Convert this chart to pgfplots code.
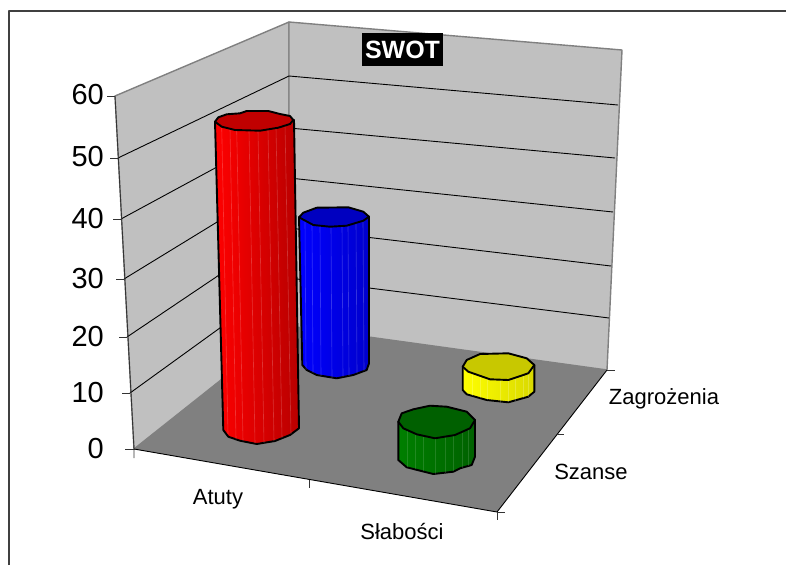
\documentclass[border=0pt]{standalone}
\usepackage{pgfplots}
\pgfplotsset{compat=1.18}
\usepackage{fontspec}
\setmainfont{Liberation Sans}
\definecolor{wall}{HTML}{C0C0C0}
\definecolor{floorc}{HTML}{808080}
\definecolor{redtop}{HTML}{C00000}
\definecolor{bluetop}{HTML}{0000C0}
\definecolor{greentop}{HTML}{006000}
\definecolor{yellowtop}{HTML}{C8C800}
\begin{document}
\begin{tikzpicture}
\begin{axis}[name=ax,
  scale only axis, width=786pt, height=565pt,
  xmin=0, xmax=786, ymin=0, ymax=565, y dir=reverse,
  hide axis, clip=true, unbounded coords=jump, line join=round]
% frame
\addplot[draw=black!75, line width=1.4pt] coordinates {(9,565) (9,11) (786,11)};
% walls and floor
\addplot[fill=wall, draw=floorc, line width=1.4pt] coordinates {(115,96) (289,22) (289,326) (134,449)} --cycle;
\addplot[fill=wall, draw=floorc, line width=1.4pt] coordinates {(289,22) (622,50) (607,370) (289,326)} --cycle;
\addplot[fill=floorc, draw=none] coordinates {(134,449) (289,326) (607,370) (497,512)} --cycle;
% gridlines
\addplot[black, line width=0.9pt] coordinates {
 (118,158) (289,76) (618,105) (nan,nan)
 (121,219) (289,128) (615,158) (nan,nan)
 (124,279) (289,178) (613,212) (nan,nan)
 (127,337) (289,228) (611,266) (nan,nan)
 (130,393) (289,278) (609,318)};
% axes and ticks
\addplot[black!80, line width=0.9pt] coordinates {(115,96) (134,449) (134,458)};
\addplot[black, line width=0.9pt] coordinates {(134,449) (497,512) (607,370)};
\addplot[black!80, line width=0.8pt] coordinates {
 (107,96) (115,96) (nan,nan) (110,158) (118,158) (nan,nan)
 (113,219) (121,219) (nan,nan) (116,279) (124,279) (nan,nan)
 (119,337) (127,337) (nan,nan) (122,393) (130,393) (nan,nan)
 (125,449) (134,449) (nan,nan)
 (309,480) (309,488) (nan,nan) (497,512) (497,520) (nan,nan)
 (497,512) (505,512) (nan,nan) (557,434) (564,434) (nan,nan)
 (607,370) (615,370)};
% blue
\addplot[draw=black, line width=1.9pt, left color=blue, right color=blue!80!black] coordinates {(299,217.3) (302.3,365) (306.7,370) (316.7,375) (336.7,378.3) (353.3,375) (366.7,370) (369,363.3) (369,216.7)} --cycle;
\addplot[white, opacity=0.2, line width=0.6pt] coordinates {
 (305,222) (306,370) (nan,nan) (312,224) (313,373) (nan,nan) (320,226) (321,376) (nan,nan)
 (331,227) (332,378) (nan,nan) (342,226) (343,377) (nan,nan) (348,225) (349,376) (nan,nan)
 (356,223) (357,373) (nan,nan) (363,221) (364,371)};
\addplot[draw=black, line width=1.9pt, fill=bluetop] coordinates {(299,217.3) (303.3,212.7) (316.7,207.7) (348.3,207.3) (363.3,211.7) (369,216.7) (363.3,220.7) (346.7,225.7) (330,226.7) (313.3,225)} --cycle;
% yellow
\addplot[draw=black, line width=1.9pt, left color=yellow, right color=yellow!85!black] coordinates {(462.7,366.7) (462.7,390) (466.7,394.3) (486.7,400) (508.3,402.3) (528.3,396.7) (534.3,391.7) (534.3,365)} --cycle;
\addplot[white, opacity=0.2, line width=0.6pt] coordinates {
 (472,374) (472,396) (nan,nan) (480,377) (480,398) (nan,nan) (487,379) (487,400) (nan,nan)
 (500,380) (500,402) (nan,nan) (508,380) (508,402) (nan,nan) (515,378) (515,401) (nan,nan)
 (523,375) (523,398) (nan,nan) (528,374) (528,397)};
\addplot[draw=black, line width=1.9pt, fill=yellowtop] coordinates {(462.7,366.7) (466.7,360) (480,354) (508.3,353.3) (526.7,358.3) (534.3,365) (528.3,373.3) (508.3,380) (490,379.3) (468.3,371.7)} --cycle;
% red
\addplot[draw=black, line width=1.9pt, left color=red, right color=red!72!black] coordinates {(215,121.7) (223.3,430) (228.3,436.7) (240,440.7) (256.7,444) (275,441) (290,435) (299,428.3) (294,120)} --cycle;
\addplot[white, opacity=0.2, line width=0.6pt] coordinates {
 (221.7,127) (228,434) (nan,nan) (230,129) (236,439) (nan,nan) (236.7,130) (243,441) (nan,nan)
 (249,131) (255,443) (nan,nan) (258,131) (264,443) (nan,nan) (268,130) (274,441) (nan,nan)
 (276,128) (282,438) (nan,nan) (285,125) (291,434)};
\addplot[draw=black, line width=1.9pt, fill=redtop] coordinates {(215,121.7) (218.3,117.3) (226.7,114.3) (240,113.3) (246.7,111) (268.3,111) (280,114) (290,116) (293.3,120) (290,124) (278.3,127.7) (260,130.7) (235,130) (221.7,126.7)} --cycle;
% green
\addplot[draw=black, line width=1.9pt, left color=green!50!black, right color=green!38!black] coordinates {(398.3,421.7) (398.3,460) (406.7,467.3) (433.3,474) (453.3,471.7) (460,468.3) (471.7,465) (475,456.7) (475,420)} --cycle;
\addplot[white, opacity=0.13, line width=0.6pt] coordinates {
 (407,431) (407,467) (nan,nan) (415,434) (415,469) (nan,nan) (423,436) (423,471) (nan,nan)
 (435,438) (435,474) (nan,nan) (445,437) (445,473) (nan,nan) (453,435) (453,471) (nan,nan)
 (462,432) (462,468) (nan,nan) (468,429) (468,466)};
\addplot[draw=black, line width=1.9pt, fill=greentop] coordinates {(398.3,421.7) (401.7,413.3) (413.3,409.3) (430,405.7) (446.7,406.7) (466.7,411.7) (475,420) (470,428.3) (455,435) (435,438.3) (416.7,434.3) (403.3,428.3)} --cycle;
% text
\node[fill=black, text=white, font=\fontsize{25}{25}\selectfont\bfseries, inner sep=0pt, minimum width=81pt, minimum height=33pt] at (axis cs:402.5,49.5) {SWOT};
\node[anchor=east, inner sep=0pt, font=\fontsize{29}{29}\selectfont] at (axis cs:104,95) {60};
\node[anchor=east, inner sep=0pt, font=\fontsize{29}{29}\selectfont] at (axis cs:104,157) {50};
\node[anchor=east, inner sep=0pt, font=\fontsize{29}{29}\selectfont] at (axis cs:104,219) {40};
\node[anchor=east, inner sep=0pt, font=\fontsize{29}{29}\selectfont] at (axis cs:104,279) {30};
\node[anchor=east, inner sep=0pt, font=\fontsize{29}{29}\selectfont] at (axis cs:104,337) {20};
\node[anchor=east, inner sep=0pt, font=\fontsize{29}{29}\selectfont] at (axis cs:104,393) {10};
\node[anchor=east, inner sep=0pt, font=\fontsize{29}{29}\selectfont] at (axis cs:104,449) {0};
\node[font=\fontsize{22}{22}\selectfont, inner sep=0pt] at (axis cs:218,499) {Atuty};
\node[font=\fontsize{22}{22}\selectfont, inner sep=0pt] at (axis cs:402,531) {Słabości};
\node[font=\fontsize{22}{22}\selectfont, inner sep=0pt] at (axis cs:591,472) {Szanse};
\node[font=\fontsize{22}{22}\selectfont, inner sep=0pt] at (axis cs:664,399) {Zagrożenia};
\end{axis}
\path (ax.south west) rectangle (ax.north east);
\end{tikzpicture}
\end{document}
